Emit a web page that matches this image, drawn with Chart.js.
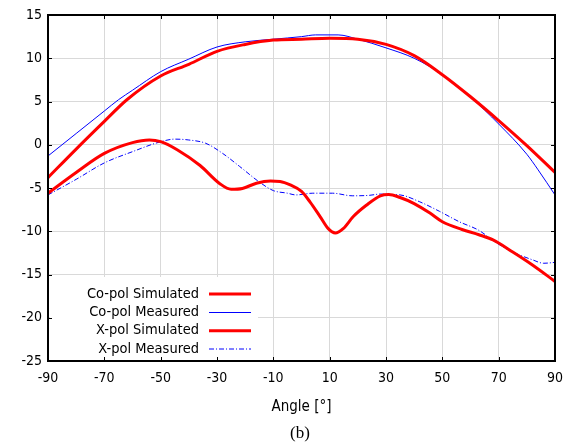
<!DOCTYPE html>
<html>
<head>
<meta charset="utf-8">
<script src="https://cdn.jsdelivr.net/npm/chart.js@4/dist/chart.umd.min.js"></script>
<style>
  html, body { margin: 0; padding: 0; background: #fff; }
  #wrap { position: relative; width: 576px; height: 446px; }
  #caption {
    position: absolute; left: 272px; top: 423px; width: 56px;
    text-align: center; font: 17px "Liberation Serif", "Times New Roman", serif; color: #000;
  }
</style>
</head>
<body>
<div id="wrap">
  <canvas id="chart" width="576" height="446"></canvas>
  <div id="caption">(b)</div>
</div>
<script>
// angle ticks / value ticks
const xTicks = [-90, -70, -50, -30, -10, 10, 30, 50, 70, 90];
const yTicks = [-25, -20, -15, -10, -5, 0, 5, 10, 15];

// Co-pol simulated
const coSimAngles = [-90, -80, -70, -62, -50, -40, -30, -20, -10, 0, 10, 20, 30, 40, 50, 60, 70, 80, 90];
const coSimValues = [-3.8, -0.5, 2.7, 5.2, 7.95, 9.3, 10.8, 11.6, 12.1, 12.2, 12.3, 12.2, 11.6, 10.3, 8.1, 5.55, 2.8, -0.1, -3.2];

// Co-pol measured
const coMeasAngles = [-90, -80, -70, -65, -60, -50, -40, -30, -20, -10, 0, 5, 13, 20, 30, 40, 50, 60, 70, 80, 84, 90];
const coMeasValues = [-1.3, 1.3, 3.9, 5.2, 6.3, 8.45, 9.9, 11.3, 11.9, 12.2, 12.5, 12.7, 12.7, 12.2, 11.2, 10.0, 8.1, 5.5, 2.4, -1.1, -2.9, -5.8];

// X-pol simulated
const xSimAngles = [-90, -80, -70, -60, -54, -50, -44, -36, -29, -25, -21, -16, -11, -7.6, -4, 0, 3, 6.6, 9.5, 12, 14.8, 18.4, 23, 28, 31, 35, 40, 45.6, 50, 57, 63, 68, 75, 82, 90];
const xSimValues = [-5.6, -3.2, -1.0, 0.25, 0.55, 0.36, -0.6, -2.4, -4.5, -5.15, -5.05, -4.45, -4.2, -4.25, -4.65, -5.4, -6.6, -8.3, -9.7, -10.2, -9.7, -8.3, -7.0, -5.9, -5.75, -6.1, -6.8, -7.9, -8.9, -9.8, -10.4, -11.0, -12.4, -13.9, -15.8];

// X-pol measured
const xMeasAngles = [-90, -80, -70, -60, -50, -45, -40, -34, -28, -22, -15, -10, -5, -2, 4, 11, 18, 24, 28, 31, 35, 42, 49, 56, 63, 69, 75, 82, 86, 90];
const xMeasValues = [-5.8, -4.0, -2.1, -0.8, 0.35, 0.65, 0.55, 0.17, -1.0, -2.5, -4.3, -5.3, -5.6, -5.8, -5.6, -5.6, -5.9, -5.85, -5.7, -5.75, -5.8, -6.6, -7.7, -8.9, -9.9, -11.3, -12.4, -13.3, -13.7, -13.6];

const seriesLabels = ['Co-pol Simulated', 'Co-pol Measured', 'X-pol Simulated', 'X-pol Measured'];

function toPoints(xs, ys) {
  return xs.map((x, i) => ({ x, y: ys[i] }));
}

const FONT = '"DejaVu Sans Condensed", "DejaVu Sans", sans-serif';

// legend drawn inside the plot, text right-aligned with the sample to its right
const insideLegend = {
  id: 'insideLegend',
  afterDatasetsDraw(chart) {
    const ctx = chart.ctx;
    const area = chart.chartArea;
    ctx.save();
    ctx.fillStyle = '#fff';
    ctx.fillRect(area.left + 2, 277, 258 - area.left - 2, area.bottom - 277);
    ctx.font = '14.5px ' + FONT;
    ctx.textAlign = 'right';
    ctx.textBaseline = 'middle';
    const rows = [294, 312.5, 330.7, 349];
    chart.data.datasets.forEach((ds, i) => {
      const y = rows[i];
      ctx.fillStyle = '#000';
      ctx.fillText(ds.label, 199, y);
      ctx.strokeStyle = ds.borderColor;
      ctx.lineWidth = ds.borderWidth;
      ctx.setLineDash(ds.borderDash || []);
      ctx.beginPath();
      ctx.moveTo(209, y);
      ctx.lineTo(251, y);
      ctx.stroke();
    });
    ctx.restore();
  }
};

// black frame with short inward ticks on all four sides
const frame = {
  id: 'frame',
  afterDraw(chart) {
    const ctx = chart.ctx;
    const { left, right, top, bottom } = chart.chartArea;
    const xs = chart.scales.x, ys = chart.scales.y;
    ctx.save();
    ctx.strokeStyle = '#000';
    ctx.lineWidth = 1;
    ctx.beginPath();
    xs.ticks.forEach(t => {
      const px = Math.round(xs.getPixelForValue(t.value)) + 0.5;
      ctx.moveTo(px, bottom); ctx.lineTo(px, bottom - 4);
      ctx.moveTo(px, top); ctx.lineTo(px, top + 4);
    });
    ys.ticks.forEach(t => {
      const py = Math.round(ys.getPixelForValue(t.value)) + 0.5;
      ctx.moveTo(left, py); ctx.lineTo(left + 4, py);
      ctx.moveTo(right, py); ctx.lineTo(right - 4, py);
    });
    ctx.stroke();
    ctx.lineWidth = 2;
    ctx.strokeRect(left, top, right - left, bottom - top);
    ctx.restore();
  }
};

new Chart(document.getElementById('chart'), {
  type: 'line',
  data: {
    datasets: [
      { label: seriesLabels[0], data: toPoints(coSimAngles, coSimValues), borderColor: '#ff0000', borderWidth: 3 },
      { label: seriesLabels[1], data: toPoints(coMeasAngles, coMeasValues), borderColor: '#0000ff', borderWidth: 1 },
      { label: seriesLabels[2], data: toPoints(xSimAngles, xSimValues), borderColor: '#ff0000', borderWidth: 3 },
      { label: seriesLabels[3], data: toPoints(xMeasAngles, xMeasValues), borderColor: '#0000ff', borderWidth: 1, borderDash: [5, 2, 1, 2] }
    ]
  },
  options: {
    responsive: false,
    animation: false,
    elements: {
      point: { radius: 0 },
      line: { cubicInterpolationMode: 'monotone', fill: false }
    },
    layout: { padding: { top: 15, right: 21, left: 0, bottom: 30 } },
    plugins: { legend: { display: false }, tooltip: { enabled: false } },
    scales: {
      x: {
        type: 'linear',
        min: -90, max: 90,
        afterBuildTicks: s => { s.ticks = xTicks.map(v => ({ value: v })); },
        afterFit: s => { s.height = 55; },
        grid: { color: '#d9d9d9', drawTicks: false },
        border: { display: false },
        ticks: { color: '#000', padding: 9, maxRotation: 0, font: { family: FONT, size: 14 } },
        title: { display: true, text: 'Angle [°]', color: '#000', padding: { top: 3, bottom: 0 }, font: { family: FONT, size: 15 } }
      },
      y: {
        min: -25, max: 15,
        afterBuildTicks: s => { s.ticks = yTicks.map(v => ({ value: v })); },
        afterFit: s => { s.width = 48; },
        grid: { color: '#d9d9d9', drawTicks: false },
        border: { display: false },
        ticks: { color: '#000', padding: 6, font: { family: FONT, size: 14 } }
      }
    }
  },
  plugins: [insideLegend, frame]
});
</script>
</body>
</html>
